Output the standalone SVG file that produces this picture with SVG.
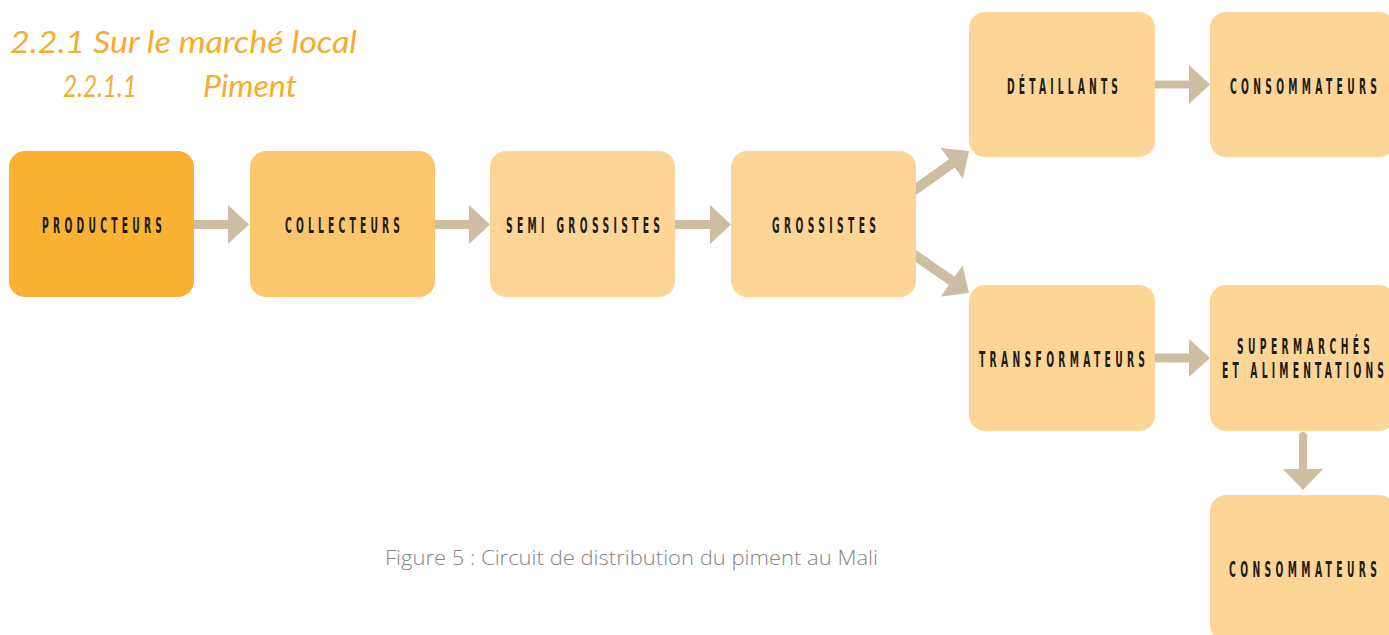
<svg xmlns="http://www.w3.org/2000/svg" width="1389" height="635" viewBox="0 0 1389 635">
  <defs>
    <style>
      .box { stroke: none; }
      .c1 { fill: #F9B233; }
      .c2 { fill: #FBC66E; }
      .c3 { fill: #FDD597; }
      .lbl { font-family: "DejaVu Sans Condensed", "DejaVu Sans", sans-serif; font-weight: bold; font-size: 20.5px; fill: #1D1D1B; text-anchor: middle; }
      .title { font-family: Lato, "Liberation Sans", sans-serif; font-style: italic; font-size: 31px; fill: #F7AB2F; }
      .cap { font-family: "Open Sans", "Liberation Sans", sans-serif; font-weight: 300; font-size: 20px; fill: #858585; }
      .arr { fill: #CCBDA3; }
    </style>
  </defs>

  <rect width="1389" height="635" fill="#FFFFFF"/>

  <g id="titles">
    <text class="title" x="10" y="53" textLength="347" lengthAdjust="spacingAndGlyphs">2.2.1  Sur le marché local</text>
    <text class="title" x="63" y="97" textLength="74" lengthAdjust="spacingAndGlyphs">2.2.1.1</text>
    <text class="title" x="203" y="97" textLength="94" lengthAdjust="spacingAndGlyphs">Piment</text>
  </g>

  <g id="connectors" class="arr">
    <path d="M185,220 H228 V205 L249,224.5 L228,244 V229 H185 Z"/>
    <path d="M426,220 H469 V205 L490,224.5 L469,244 V229 H426 Z"/>
    <path d="M666,220 H710 V205 L731,224.5 L710,244 V229 H666 Z"/>
    <path d="M1146,80.5 H1189 V65 L1210,84.5 L1189,104 V88.5 H1146 Z"/>
    <path d="M1146,353.5 H1189 V339 L1210,358 L1189,377 V362.5 H1146 Z"/>
    <path transform="translate(907.9,194.8) rotate(-35.6)" d="M0,-5 H54 V-19 L75.2,0 L54,19 V5 H0 Z"/>
    <path transform="translate(907.8,250.3) rotate(34.9)" d="M0,-5 H53.6 V-19 L74.6,0 L53.6,19 V5 H0 Z"/>
    <path d="M1299,436 A4,4 0 0 1 1307,436 V469 H1323 L1303,490 L1283,469 H1299 Z"/>
  </g>

  <g id="node-producteurs">
    <rect class="box c1" x="9" y="151" width="185" height="146" rx="16"/>
    <text class="lbl" transform="translate(102,232.5) scale(0.5,1)" textLength="240" lengthAdjust="spacing">PRODUCTEURS</text>
  </g>
  <g id="node-collecteurs">
    <rect class="box c2" x="250" y="151" width="185" height="146" rx="16"/>
    <text class="lbl" transform="translate(342.5,232.5) scale(0.5,1)" textLength="230" lengthAdjust="spacing">COLLECTEURS</text>
  </g>
  <g id="node-semi-grossistes">
    <rect class="box c3" x="490" y="151" width="185" height="146" rx="16"/>
    <text class="lbl" transform="translate(583,232.5) scale(0.5,1)" textLength="308" lengthAdjust="spacing">SEMI GROSSISTES</text>
  </g>
  <g id="node-grossistes">
    <rect class="box c3" x="731" y="151" width="185" height="146" rx="16"/>
    <text class="lbl" transform="translate(824,232.5) scale(0.5,1)" textLength="208" lengthAdjust="spacing">GROSSISTES</text>
  </g>
  <g id="node-detaillants">
    <rect class="box c3" x="969" y="12" width="186" height="145" rx="16"/>
    <text class="lbl" transform="translate(1062.5,94) scale(0.5,1)" textLength="222" lengthAdjust="spacing">DÉTAILLANTS</text>
  </g>
  <g id="node-consommateurs-1">
    <rect class="box c3" x="1210" y="12" width="185" height="145" rx="16"/>
    <text class="lbl" transform="translate(1303.5,94) scale(0.5,1)" textLength="294" lengthAdjust="spacing">CONSOMMATEURS</text>
  </g>
  <g id="node-transformateurs">
    <rect class="box c3" x="969" y="285" width="186" height="146" rx="16"/>
    <text class="lbl" transform="translate(1062,367) scale(0.5,1)" textLength="332" lengthAdjust="spacing">TRANSFORMATEURS</text>
  </g>
  <g id="node-supermarches">
    <rect class="box c3" x="1210" y="285" width="185" height="146" rx="16"/>
    <text class="lbl" transform="translate(1303.5,354) scale(0.5,1)" textLength="266" lengthAdjust="spacing">SUPERMARCHÉS</text>
    <text class="lbl" transform="translate(1303,378) scale(0.5,1)" textLength="324" lengthAdjust="spacing">ET ALIMENTATIONS</text>
  </g>
  <g id="node-consommateurs-2">
    <rect class="box c3" x="1210" y="495" width="185" height="146" rx="16"/>
    <text class="lbl" transform="translate(1303,577) scale(0.5,1)" textLength="296" lengthAdjust="spacing">CONSOMMATEURS</text>
  </g>

  <g id="caption">
    <text class="cap" x="385" y="565" textLength="493" lengthAdjust="spacingAndGlyphs">Figure 5 : Circuit de distribution du piment au Mali</text>
  </g>
</svg>
